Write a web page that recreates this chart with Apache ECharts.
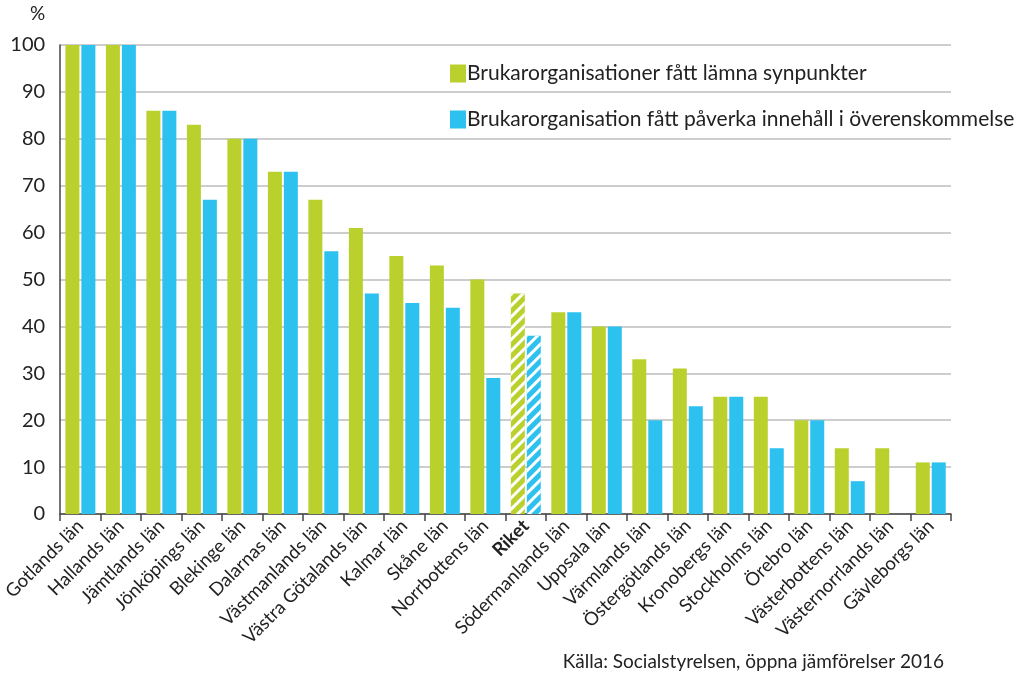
<!DOCTYPE html>
<html>
<head>
<meta charset="utf-8">
<script src="https://cdn.jsdelivr.net/npm/echarts@6/dist/echarts.min.js"></script>
<style>
html,body{margin:0;padding:0;background:#fff;}
#chart{width:1024px;height:691px;}
</style>
</head>
<body>
<div id="chart"></div>
<script>
const categories = ["Gotlands län","Hallands län","Jämtlands län","Jönköpings län","Blekinge län","Dalarnas län","Västmanlands län","Västra Götalands län","Kalmar län","Skåne län","Norrbottens län","Riket","Södermanlands län","Uppsala län","Värmlands län","Östergötlands län","Kronobergs län","Stockholms län","Örebro län","Västerbottens län","Västernorrlands län","Gävleborgs län"];
const synpunkter = [100,100,86,83,80,73,67,61,55,53,50,47,43,40,33,31,25,25,20,14,14,11];
const paverka = [100,100,86,67,80,73,56,47,45,44,29,38,43,40,20,23,25,14,20,7,null,11];
const seriesNames = ["Brukarorganisationer fått lämna synpunkter","Brukarorganisation fått påverka innehåll i överenskommelse"];
const yTicks = [0,10,20,30,40,50,60,70,80,90,100];

const GREEN = '#bad02c';
const BLUE = '#2cc1ef';
const FONT = 'Lato, "Open Sans", sans-serif';
const hatch = {symbol:'rect', dashArrayX:[1,0], dashArrayY:[2.5,5], rotation:-Math.PI/4, color:'#ffffff'};

function mk(vals){
  return vals.map((v,i)=> categories[i]==='Riket' ? {value:v, itemStyle:{decal:hatch}} : v);
}

const chart = echarts.init(document.getElementById('chart'), null, {renderer:'canvas'});
chart.setOption({
  animation:false,
  backgroundColor:'#ffffff',
  textStyle:{fontFamily:FONT},
  grid:{left:59, right:73, top:45, bottom:177, containLabel:false},
  legend:{
    orient:'vertical', left:445, top:58, itemGap:25, itemWidth:16, itemHeight:18,
    data:seriesNames,
    textStyle:{fontSize:21, color:'#222', fontFamily:FONT, padding:[0,0,0,-4]},
    icon:'rect'
  },
  graphic:[
    {type:'text', left:30, top:4, style:{text:'%', fontSize:19, fill:'#222', fontFamily:FONT}},
    {type:'text', right:80, top:652, style:{text:'Källa: Socialstyrelsen, öppna jämförelser 2016', fontSize:19, fill:'#222', fontFamily:FONT}}
  ],
  xAxis:{
    type:'category', data:categories, boundaryGap:true,
    axisLine:{show:true, lineStyle:{color:'#444', width:1.5}},
    axisTick:{show:true, alignWithLabel:false, length:7, lineStyle:{color:'#444', width:1.5}},
    axisLabel:{
      interval:0, rotate:45, fontSize:18.5, color:'#222', margin:9, fontFamily:FONT,
      formatter:function(v){return v==='Riket' ? '{b|Riket}' : v;},
      rich:{b:{fontWeight:'bold', fontSize:18.5, color:'#222', fontFamily:FONT}}
    }
  },
  yAxis:{
    type:'value', min:0, max:100, interval:10,
    axisLine:{show:true, lineStyle:{color:'#444', width:1.5}},
    axisTick:{show:false},
    axisLabel:{fontSize:20, color:'#222', margin:15, fontFamily:FONT,
      formatter:function(v){return yTicks.indexOf(v)>=0 ? String(v) : '';}},
    splitLine:{show:true, lineStyle:{color:'#bdbdbd', width:1.5}}
  },
  series:[
    {name:seriesNames[0], type:'bar', data:mk(synpunkter), barWidth:14, barGap:'14%', itemStyle:{color:GREEN}},
    {name:seriesNames[1], type:'bar', data:mk(paverka), barWidth:14, barGap:'14%', itemStyle:{color:BLUE}}
  ]
});
</script>
</body>
</html>
